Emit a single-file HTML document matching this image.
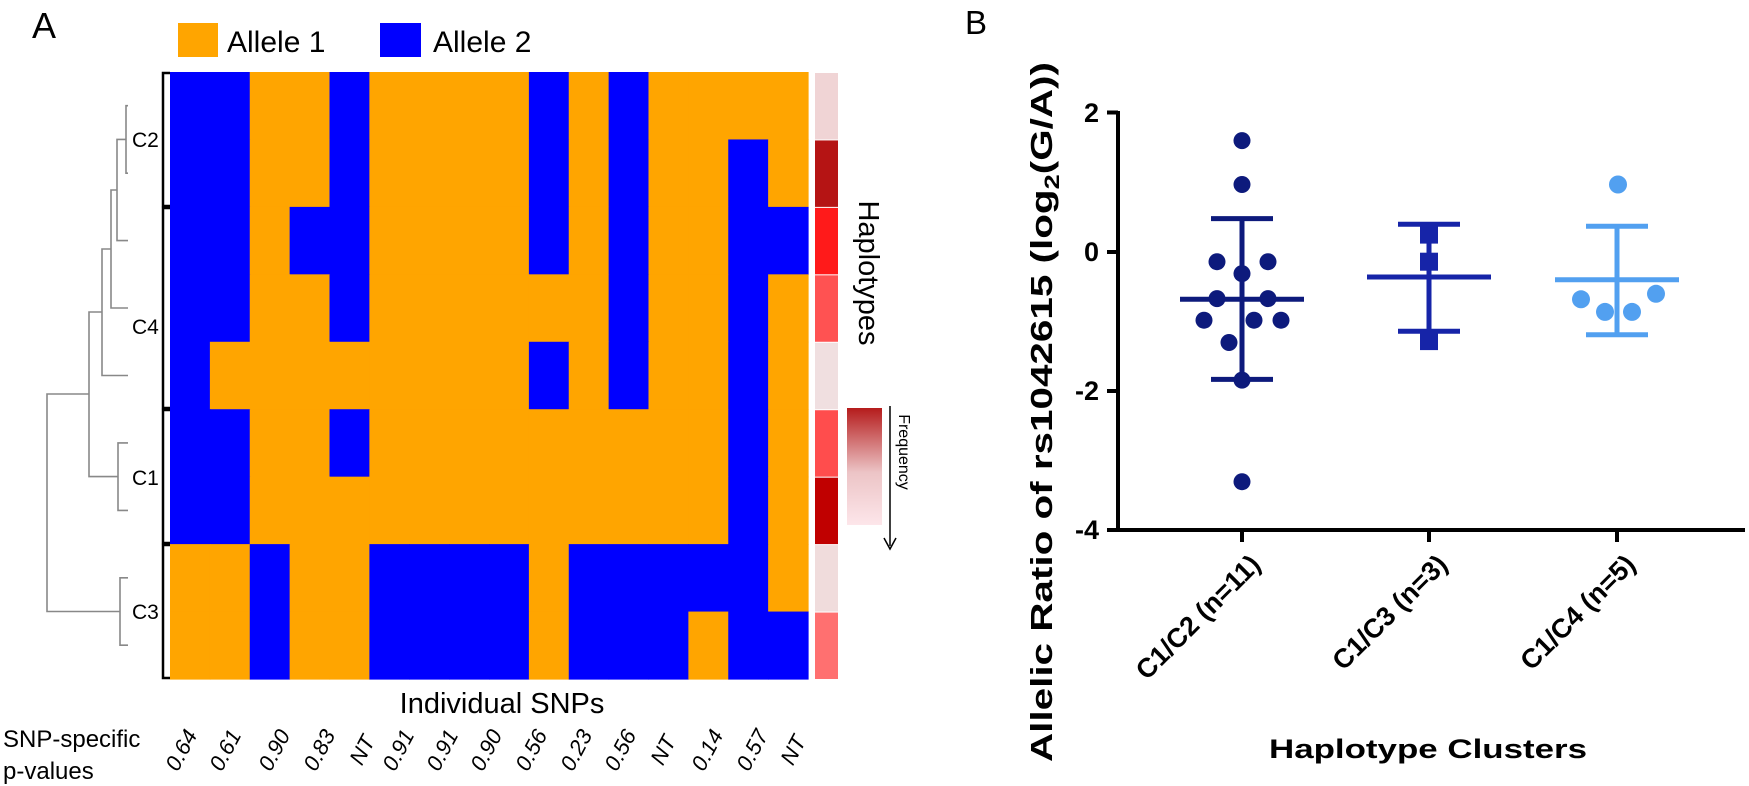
<!DOCTYPE html>
<html><head><meta charset="utf-8"><style>
html,body{margin:0;padding:0;background:#fff;}
svg{display:block;font-family:"Liberation Sans",sans-serif;}
</style></head><body>
<svg width="1749" height="786" viewBox="0 0 1749 786" xmlns="http://www.w3.org/2000/svg">
<rect width="1749" height="786" fill="#fff"/>
<defs>
<linearGradient id="fg" x1="0" y1="0" x2="0" y2="1">
<stop offset="0" stop-color="#b51c1c"/><stop offset="0.55" stop-color="#ecc4c6"/><stop offset="1" stop-color="#fde6ea"/>
</linearGradient>
</defs>
<text x="32" y="38" font-size="36" fill="#000">A</text>
<rect x="178" y="23" width="40" height="34" fill="#ffa500"/>
<text x="227" y="52" font-size="30" fill="#000">Allele 1</text>
<rect x="380" y="23" width="41" height="34" fill="#0000ff"/>
<text x="433" y="52" font-size="30" fill="#000">Allele 2</text>

<g id="hm"></g>
<script>
(function(){
var rows=[
"BBOOBOOOOBOBOOOO",
"BBOOBOOOOBOBOOBO",
"BBOBBOOOOBOBOOBB",
"BBOOBOOOOOOBOOBO",
"BOOOOOOOOBOBOOBO",
"BBOOBOOOOOOOOOBO",
"BBOOOOOOOOOOOOBO",
"OOBOOBBBBOBBBBBO",
"OOBOOBBBBOBBBOBB"];
var x0=170,cw=638/16,y0=72,rh=607/9,g=document.getElementById('hm'),ns='http://www.w3.org/2000/svg';
for(var r=0;r<9;r++)for(var c=0;c<16;c++){var e=document.createElementNS(ns,'rect');
e.setAttribute('x',(x0+c*cw).toFixed(2));e.setAttribute('y',(y0+r*rh).toFixed(2));
e.setAttribute('width',(cw+0.6).toFixed(2));e.setAttribute('height',(rh+0.6).toFixed(2));
e.setAttribute('fill',rows[r][c]=='B'?'#0000ff':'#ffa500');g.appendChild(e);}
var hc=['#f0d4d5','#b51414','#ff1a1a','#ff5252','#f0dfe0','#ff4d4d','#c00000','#f0dcdc','#ff7070'];
for(var r=0;r<9;r++){var e=document.createElementNS(ns,'rect');e.setAttribute('x',815);e.setAttribute('y',(y0+r*rh+1).toFixed(2));
e.setAttribute('width',23);e.setAttribute('height',(rh-1).toFixed(2));e.setAttribute('fill',hc[r]);g.appendChild(e);}
})();
</script>

<g stroke="#000" stroke-width="2.5" fill="none">
<path d="M170,73 H163 V206 H170"/>
<path d="M170,208 H163 V408 H170"/>
<path d="M170,410 H163 V543 H170"/>
<path d="M170,545 H163 V678 H170"/>
</g>
<g stroke="#888" stroke-width="1.6" fill="none">
<path d="M128,105.7 H126 V173.2 H128"/>
<path d="M126,139.4 H117 V240.6 H128"/>
<path d="M117,190 H111 V308 H128"/>
<path d="M111,249 H102 V375.5 H128"/>
<path d="M128,442.9 H118 V510.4 H128"/>
<path d="M102,312 H89 V476.6 H118"/>
<path d="M128,577.8 H120 V645.2 H128"/>
<path d="M89,394 H47 V611.5 H120"/>
</g>
<g font-size="21" fill="#000">
<text x="132" y="147">C2</text>
<text x="132" y="334">C4</text>
<text x="132" y="485">C1</text>
<text x="132" y="619">C3</text>
</g>

<text transform="translate(859,273) rotate(90)" text-anchor="middle" font-size="29" fill="#000">Haplotypes</text>
<rect x="847" y="408" width="35" height="117" fill="url(#fg)"/>
<line x1="890" y1="406" x2="890" y2="546" stroke="#000" stroke-width="1.5"/>
<path d="M884,538 L890,549 L896,538" stroke="#000" stroke-width="1.5" fill="none"/>
<text transform="translate(899,452) rotate(90)" text-anchor="middle" font-size="16" fill="#000">Frequency</text>

<text x="502" y="713" text-anchor="middle" font-size="29" fill="#000">Individual SNPs</text>
<text x="3" y="747" font-size="24" fill="#000">SNP-specific</text>
<text x="3" y="779" font-size="24" fill="#000">p-values</text>
<g font-size="22" font-style="italic" fill="#000" text-anchor="middle">
<text transform="translate(181,750) rotate(-62)" dy="0.35em">0.64</text>
<text transform="translate(225,750) rotate(-62)" dy="0.35em">0.61</text>
<text transform="translate(274,750) rotate(-62)" dy="0.35em">0.90</text>
<text transform="translate(319,750) rotate(-62)" dy="0.35em">0.83</text>
<text transform="translate(362,750) rotate(-62)" dy="0.35em">NT</text>
<text transform="translate(398,750) rotate(-62)" dy="0.35em">0.91</text>
<text transform="translate(442,750) rotate(-62)" dy="0.35em">0.91</text>
<text transform="translate(486,750) rotate(-62)" dy="0.35em">0.90</text>
<text transform="translate(531,750) rotate(-62)" dy="0.35em">0.56</text>
<text transform="translate(576,750) rotate(-62)" dy="0.35em">0.23</text>
<text transform="translate(620,750) rotate(-62)" dy="0.35em">0.56</text>
<text transform="translate(663,750) rotate(-62)" dy="0.35em">NT</text>
<text transform="translate(707,750) rotate(-62)" dy="0.35em">0.14</text>
<text transform="translate(752,750) rotate(-62)" dy="0.35em">0.57</text>
<text transform="translate(793,750) rotate(-62)" dy="0.35em">NT</text>
</g>

<text x="965" y="34" font-size="33" fill="#000">B</text>
<text transform="translate(1052,412) rotate(-90)" text-anchor="middle" font-size="31" font-weight="bold" fill="#000" textLength="700" lengthAdjust="spacingAndGlyphs">Allelic Ratio of rs1042615 (log<tspan font-size="21" dy="7">2</tspan><tspan dy="-7">(G/A))</tspan></text>
<g stroke="#000" stroke-width="4" fill="none">
<path d="M1118,111 V530 H1745"/>
<path d="M1107,112.5 H1118 M1107,252 H1118 M1107,391 H1118 M1107,530 H1118"/>
<path d="M1242,530 V542 M1429,530 V542 M1617,530 V542"/>
</g>
<g font-size="27" font-weight="bold" fill="#000" text-anchor="end">
<text x="1099" y="122">2</text>
<text x="1099" y="261">0</text>
<text x="1099" y="400">-2</text>
<text x="1099" y="539">-4</text>
</g>
<g font-size="27" font-weight="bold" fill="#000" text-anchor="end">
<text transform="translate(1262,566) rotate(-45)">C1/C2 (n=11)</text>
<text transform="translate(1449,566) rotate(-45)">C1/C3 (n=3)</text>
<text transform="translate(1637,566) rotate(-45)">C1/C4 (n=5)</text>
</g>
<text x="1428" y="758" text-anchor="middle" font-size="27" font-weight="bold" fill="#000" textLength="318" lengthAdjust="spacingAndGlyphs">Haplotype  Clusters</text>

<g fill="#0d1a7c">
<circle cx="1242" cy="140.6" r="8.5"/><circle cx="1242" cy="184.5" r="8.5"/>
<circle cx="1217" cy="261.7" r="8.5"/><circle cx="1268" cy="261.7" r="8.5"/>
<circle cx="1242" cy="273.6" r="8.5"/>
<circle cx="1217" cy="298.6" r="8.5"/><circle cx="1268" cy="298.6" r="8.5"/>
<circle cx="1204" cy="320.2" r="8.5"/><circle cx="1254" cy="320.2" r="8.5"/><circle cx="1281" cy="320.2" r="8.5"/>
<circle cx="1229" cy="342.5" r="8.5"/><circle cx="1242" cy="380.1" r="8.5"/><circle cx="1242" cy="481.7" r="8.5"/>
</g>
<g stroke="#0d1a7c" stroke-width="5" fill="none">
<path d="M1242,218.6 V379.4 M1211,218.6 H1273 M1211,379.4 H1273 M1180,299.3 H1304"/>
</g>
<g fill="#1624a8">
<rect x="1420" y="225.6" width="18" height="18"/><rect x="1420" y="252.7" width="18" height="18"/><rect x="1420" y="332.1" width="18" height="18"/>
</g>
<g stroke="#1624a8" stroke-width="5" fill="none">
<path d="M1429,224.2 V331.3 M1398,224.2 H1460 M1398,331.3 H1460 M1367,277 H1491"/>
</g>
<g fill="#52a0f0">
<circle cx="1618" cy="184.5" r="9"/><circle cx="1581" cy="299.3" r="9"/><circle cx="1656" cy="293.8" r="9"/>
<circle cx="1605" cy="311.9" r="9"/><circle cx="1632" cy="311.9" r="9"/>
</g>
<g stroke="#52a0f0" stroke-width="5" fill="none">
<path d="M1617,226.2 V334.8 M1586,226.2 H1648 M1586,334.8 H1648 M1555,279.8 H1679"/>
</g>
</svg>
</body></html>
